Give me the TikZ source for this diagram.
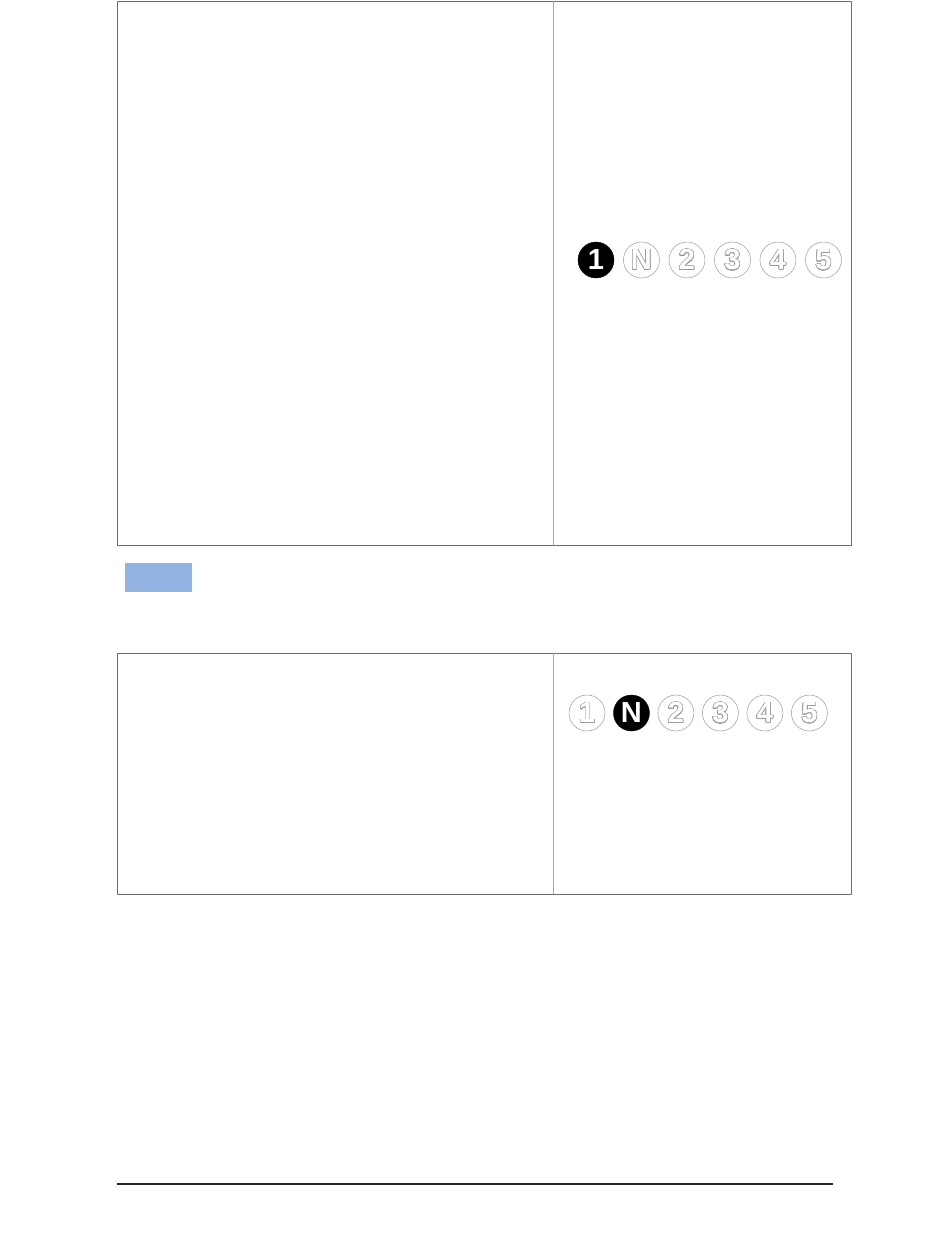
\documentclass[tikz,border=0pt]{standalone}
\usepackage{fontspec}
\setsansfont{Liberation Sans}
\usepackage[copies]{contour}
\usepackage{tikz}
\usetikzlibrary{positioning}
\definecolor{framegray}{HTML}{6E6E6E}
\definecolor{rulegray}{HTML}{A8A8A8}
\definecolor{circlegray}{HTML}{9A9A9A}
\definecolor{noteblue}{HTML}{93B3E2}
\contourlength{0.5pt}
\contournumber{24}
\newcommand{\hollow}[1]{\contour{circlegray}{\textcolor{white}{#1}}}

\begin{document}
\begin{tikzpicture}[
    x=1pt, y=-1pt,
    frame/.style={draw=framegray, line width=0.8pt},
    gearon/.style={circle, fill=black, draw=black, minimum size=36pt, inner sep=0pt, text=white, font=\sffamily\bfseries\fontsize{29}{29}\selectfont},
    gearoff/.style={circle, fill=white, draw=circlegray, line width=0.5pt, minimum size=36pt, inner sep=0pt, font=\sffamily\bfseries\fontsize{29}{29}\selectfont},
]
\useasboundingbox (0,0) rectangle (950,1254);

% Upper panel
\draw[frame] (117,1) rectangle (851,545);
\draw[rulegray, line width=0.8pt] (553,1) -- (553,545);

\node[gearon] (up1) at (596,260) {1};
\node[gearoff, right=9pt of up1] (upN) {\hollow{N}};
\node[gearoff, right=9pt of upN] (up2) {\hollow{2}};
\node[gearoff, right=9pt of up2] (up3) {\hollow{3}};
\node[gearoff, right=9pt of up3] (up4) {\hollow{4}};
\node[gearoff, right=9pt of up4] (up5) {\hollow{5}};

% Note marker
\fill[noteblue, draw=white, line width=0.6pt] (124,562) rectangle (192,592);

% Lower panel
\draw[frame] (117,653) rectangle (851,894);
\draw[rulegray, line width=0.8pt] (553,653) -- (553,894);

\node[gearoff] (lo1) at (587,713) {\hollow{1}};
\node[gearon, right=8pt of lo1] (loN) {N};
\node[gearoff, right=8pt of loN] (lo2) {\hollow{2}};
\node[gearoff, right=8pt of lo2] (lo3) {\hollow{3}};
\node[gearoff, right=8pt of lo3] (lo4) {\hollow{4}};
\node[gearoff, right=8pt of lo4] (lo5) {\hollow{5}};

% Footer rule
\draw[line width=2pt, black!85] (117,1184) -- (833,1184);

\end{tikzpicture}
\end{document}
